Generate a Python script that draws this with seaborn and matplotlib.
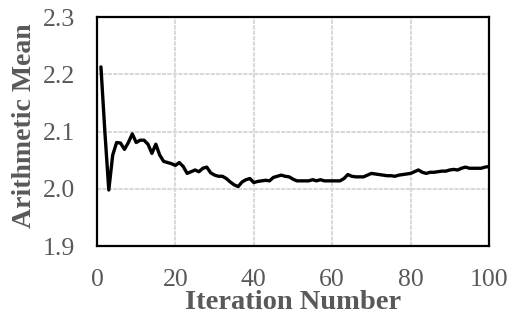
import matplotlib
matplotlib.use("Agg")
import matplotlib.pyplot as plt
import seaborn as sns
import pandas as pd

# Arithmetic mean recorded after each iteration
iterations = list(range(1, 101))
mean_values = [
    2.213, 2.100, 1.998, 2.059, 2.081, 2.080, 2.069, 2.081, 2.096, 2.081,
    2.085, 2.085, 2.078, 2.062, 2.078, 2.059, 2.048, 2.046, 2.044, 2.041,
    2.046, 2.039, 2.027, 2.030, 2.033, 2.030, 2.036, 2.038, 2.028, 2.024,
    2.022, 2.022, 2.018, 2.012, 2.007, 2.004, 2.012, 2.016, 2.018, 2.011,
    2.013, 2.014, 2.015, 2.014, 2.020, 2.022, 2.024, 2.022, 2.021, 2.017,
    2.014, 2.014, 2.014, 2.014, 2.016, 2.014, 2.016, 2.014, 2.014, 2.014,
    2.014, 2.014, 2.018, 2.025, 2.022, 2.021, 2.021, 2.021, 2.024, 2.027,
    2.026, 2.025, 2.024, 2.023, 2.023, 2.022, 2.024, 2.025, 2.026, 2.027,
    2.030, 2.033, 2.029, 2.027, 2.029, 2.029, 2.030, 2.031, 2.031, 2.033,
    2.034, 2.033, 2.036, 2.038, 2.036, 2.036, 2.036, 2.036, 2.038, 2.039,
]
x_ticks = [0, 20, 40, 60, 80, 100]
y_ticks = [1.9, 2.0, 2.1, 2.2, 2.3]

df = pd.DataFrame({"Iteration": iterations, "Mean": mean_values})

sns.set_style("white")
plt.rcParams["font.family"] = ["Liberation Serif", "DejaVu Serif"]

fig = plt.figure(figsize=(5.12, 3.23), dpi=100)
ax = fig.add_axes([0.1895, 0.238, 0.7655, 0.709])

sns.lineplot(data=df, x="Iteration", y="Mean", ax=ax, color="black",
             linewidth=2.4, zorder=3)

ax.set_xlim(0, 100)
ax.set_ylim(1.9, 2.3)
ax.set_xticks(x_ticks)
ax.set_yticks(y_ticks)
ax.set_yticklabels([f"{v:.1f}" for v in y_ticks])

ax.grid(True, color="#d9d9d9", linewidth=1.5, linestyle=(0, (2, 0.6)))
ax.set_axisbelow(True)

for s in ax.spines.values():
    s.set_visible(True)
    s.set_color("black")
    s.set_linewidth(1.6)

ax.tick_params(axis="both", direction="in", length=6.5, width=1.3,
               color="black", labelsize=18.5, labelcolor="#595959")
ax.tick_params(axis="x", pad=16.5)
ax.tick_params(axis="y", pad=16)

ax.set_xlabel("Iteration Number", fontsize=20.5, fontweight="bold",
              color="#595959", labelpad=-1)
ax.set_ylabel("Arithmetic Mean", fontsize=20, fontweight="bold",
              color="#595959")
ax.yaxis.set_label_coords(-0.152, 0.524)

fig.savefig("out.png", dpi=100)
